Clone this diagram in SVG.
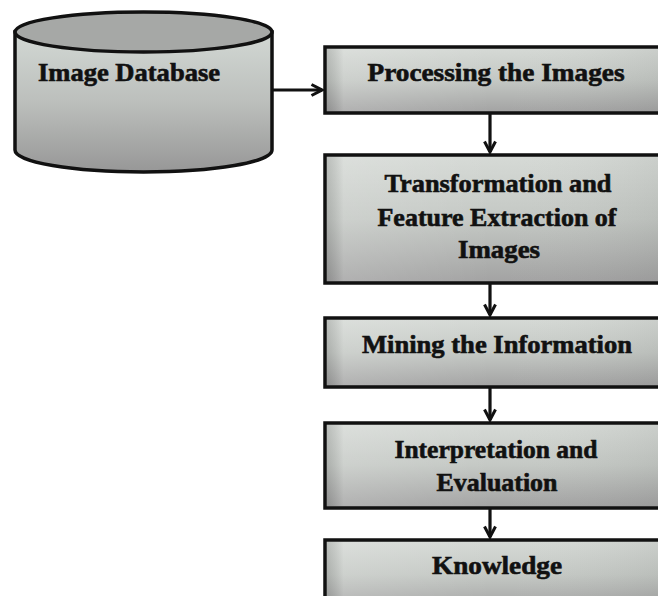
<svg xmlns="http://www.w3.org/2000/svg" width="658" height="596" viewBox="0 0 658 596">
<defs>
<linearGradient id="boxg" x1="0" y1="0" x2="0" y2="1">
<stop offset="0" stop-color="#d6dad6"/>
<stop offset="0.5" stop-color="#c4c8c4"/>
<stop offset="1" stop-color="#a2a2a2"/>
</linearGradient>
<linearGradient id="boxh" x1="0" y1="0" x2="1" y2="0">
<stop offset="0" stop-color="#000" stop-opacity="0.12"/>
<stop offset="0.05" stop-color="#fff" stop-opacity="0.15"/>
<stop offset="0.5" stop-color="#fff" stop-opacity="0"/>
<stop offset="1" stop-color="#000" stop-opacity="0.05"/>
</linearGradient>
<linearGradient id="cylg" x1="0" y1="0" x2="0" y2="1">
<stop offset="0" stop-color="#d2d8d4"/>
<stop offset="0.5" stop-color="#bcbfbc"/>
<stop offset="1" stop-color="#979797"/>
</linearGradient>
<marker id="arr" viewBox="0 0 14 14" refX="12" refY="7" markerWidth="14" markerHeight="14" markerUnits="userSpaceOnUse" orient="auto">
<path d="M1.5,1.5 L12,7 L1.5,12.5" fill="none" stroke="#111" stroke-width="3"/>
</marker>
<style>
.box{fill:url(#boxg);stroke:#111;stroke-width:3.5}
.shade{fill:url(#boxh);stroke:none}
.t{font-family:"Liberation Serif","Times New Roman",serif;font-weight:bold;font-size:25px;fill:#111;stroke:#111;stroke-width:0.6;text-anchor:middle}
.c{fill:none;stroke:#111;stroke-width:3.2;marker-end:url(#arr)}
</style>
</defs>
<rect width="658" height="596" fill="#fff"/>
<g id="db">
<path d="M15,32 L15,150 A128.5,22 0 0 0 272,150 L272,32 Z" fill="url(#cylg)" stroke="#111" stroke-width="3.5"/>
<ellipse cx="143.5" cy="32" rx="128.5" ry="20" fill="#a6a8a6" stroke="#111" stroke-width="3.5"/>
<text class="t" x="129" y="81" textLength="182" lengthAdjust="spacingAndGlyphs">Image Database</text>
</g>
<g id="n1">
<rect class="box" x="325" y="47" width="345" height="66"/>
<rect class="shade" x="327" y="49" width="331" height="62"/>
<text class="t" x="496" y="81" textLength="257" lengthAdjust="spacingAndGlyphs">Processing the Images</text>
</g>
<g id="n2">
<rect class="box" x="325" y="155" width="345" height="128"/>
<rect class="shade" x="327" y="157" width="331" height="124"/>
<text class="t" x="498" y="192" textLength="227" lengthAdjust="spacingAndGlyphs">Transformation and</text>
<text class="t" x="497" y="226" textLength="239" lengthAdjust="spacingAndGlyphs">Feature Extraction of</text>
<text class="t" x="499" y="258" textLength="82" lengthAdjust="spacingAndGlyphs">Images</text>
</g>
<g id="n3">
<rect class="box" x="325" y="318" width="345" height="69"/>
<rect class="shade" x="327" y="320" width="331" height="65"/>
<text class="t" x="497" y="353" textLength="270" lengthAdjust="spacingAndGlyphs">Mining the Information</text>
</g>
<g id="n4">
<rect class="box" x="325" y="423" width="345" height="85"/>
<rect class="shade" x="327" y="425" width="331" height="81"/>
<text class="t" x="496" y="458" textLength="203" lengthAdjust="spacingAndGlyphs">Interpretation and</text>
<text class="t" x="497" y="491" textLength="121" lengthAdjust="spacingAndGlyphs">Evaluation</text>
</g>
<g id="n5">
<rect class="box" x="325" y="540" width="345" height="70"/>
<rect class="shade" x="327" y="542" width="331" height="66"/>
<text class="t" x="497" y="574" textLength="130" lengthAdjust="spacingAndGlyphs">Knowledge</text>
</g>
<g id="connectors">
<line class="c" x1="272" y1="90" x2="322" y2="90"/>
<line class="c" x1="490" y1="113" x2="490" y2="152"/>
<line class="c" x1="490" y1="283" x2="490" y2="315"/>
<line class="c" x1="490" y1="387" x2="490" y2="420"/>
<line class="c" x1="490" y1="508" x2="490" y2="537"/>
</g>
</svg>
